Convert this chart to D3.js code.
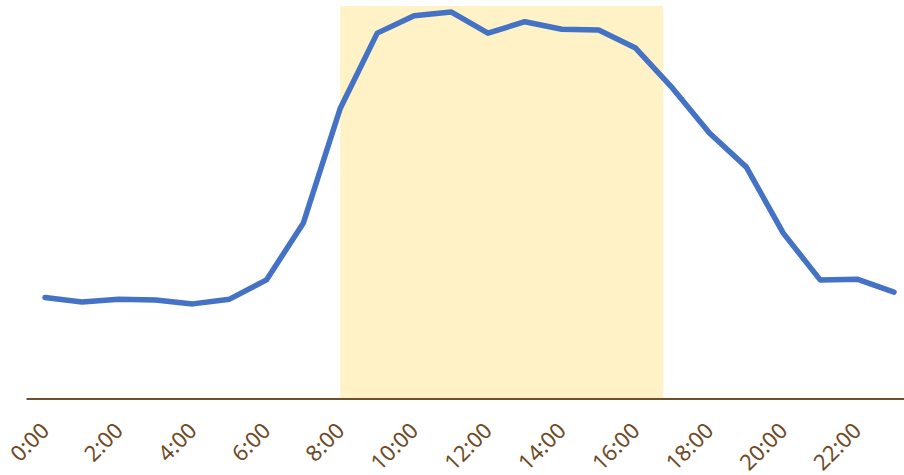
<!DOCTYPE html>
<html>
<head>
<meta charset="utf-8">
<script src="https://cdn.jsdelivr.net/npm/d3@7"></script>
<style>
  html, body { margin: 0; padding: 0; background: #ffffff; }
  svg { display: block; }
</style>
</head>
<body>
<svg id="chart" width="904" height="475"></svg>
<script>
const hours = d3.range(0, 24);
const values = [25.8, 24.7, 25.4, 25.2, 24.2, 25.4, 30.3, 44.8, 74.0, 93.1, 97.5, 98.5,
                93.1, 96.0, 94.1, 93.9, 89.3, 79.1, 67.7, 59.0, 42.2, 30.3, 30.5, 27.2];
const tickHours = [0, 2, 4, 6, 8, 10, 12, 14, 16, 18, 20, 22];
const tickLabels = tickHours.map(h => h + ":00");
const bandStart = 8;
const bandEnd = 16.75;
const yMax = 100;

const svg = d3.select("#chart");
const W = 904, H = 475;

const x = d3.scaleLinear().domain([0, 23]).range([45, 894]);
const y = d3.scaleLinear().domain([0, yMax]).range([399, 6]);

// highlight band
svg.append("rect")
  .attr("x", x(bandStart))
  .attr("y", y(yMax))
  .attr("width", x(bandEnd) - x(bandStart))
  .attr("height", y(0) - y(yMax))
  .attr("fill", "#fff2c6");

// baseline
svg.append("line")
  .attr("x1", x(-0.5)).attr("x2", W)
  .attr("y1", y(0)).attr("y2", y(0))
  .attr("stroke", "#6e4f2f")
  .attr("stroke-width", 2);

// axis labels
const axis = d3.axisBottom(x)
  .tickValues(tickHours)
  .tickFormat((d, i) => tickLabels[i])
  .tickSize(0);
const gAxis = svg.append("g")
  .attr("transform", `translate(0,${y(0)})`)
  .call(axis);
gAxis.select(".domain").remove();
gAxis.selectAll("text")
  .attr("fill", "#6e4a26")
  .style("font-family", "'Noto Sans', sans-serif")
  .style("font-size", "22px")
  .attr("text-anchor", "end")
  .attr("dy", "0.71em")
  .attr("y", 0)
  .attr("transform", "translate(-6,22) rotate(-45)");

// line
const line = d3.line()
  .x((d, i) => x(hours[i]))
  .y(d => y(d));
svg.append("path")
  .datum(values)
  .attr("d", line)
  .attr("fill", "none")
  .attr("stroke", "#4472c4")
  .attr("stroke-width", 5.5)
  .attr("stroke-linejoin", "round")
  .attr("stroke-linecap", "round");
</script>
</body>
</html>
